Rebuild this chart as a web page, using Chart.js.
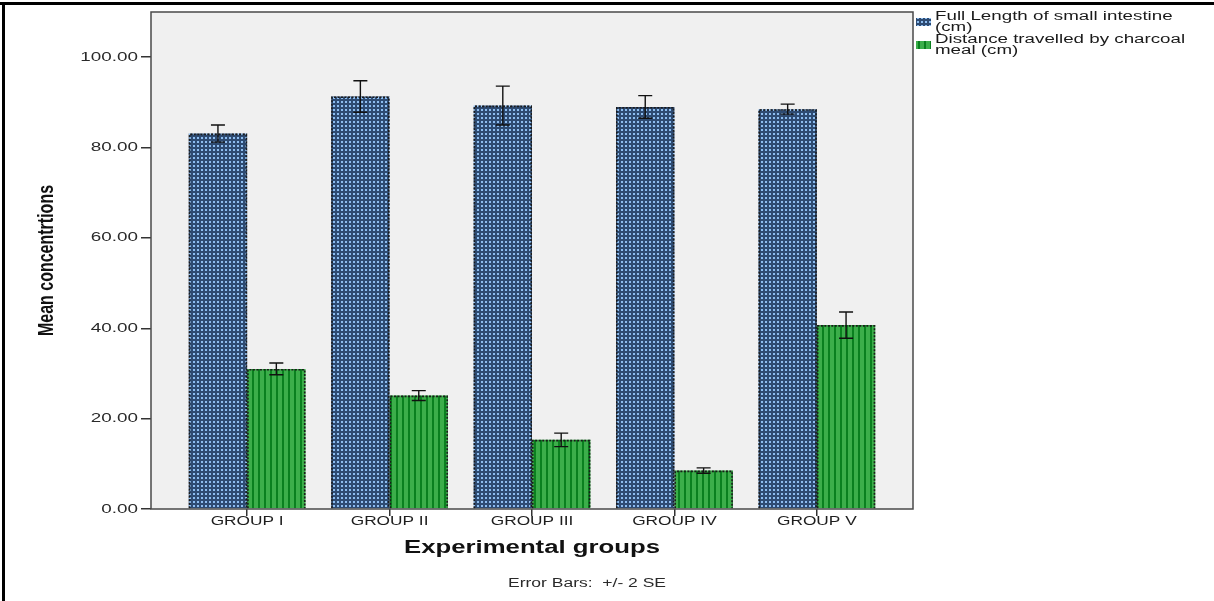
<!DOCTYPE html>
<html>
<head>
<meta charset="utf-8">
<script src="https://cdn.jsdelivr.net/npm/chart.js@4.4.1/dist/chart.umd.min.js"></script>
<style>
  html, body { margin: 0; padding: 0; background: #fff; }
</style>
</head>
<body>
<canvas id="meanChart" width="1214" height="601"></canvas>
<script>
const groups = ['GROUP I', 'GROUP II', 'GROUP III', 'GROUP IV', 'GROUP V'];
const legendLines = [
    ['Full Length of small intestine', '(cm)'],
    ['Distance travelled by charcoal', 'meal (cm)']
];
const intestineLength = [83.1, 91.3, 89.3, 89.0, 88.5];
const intestineErr = [1.9, 3.5, 4.3, 2.5, 1.1];
const charcoalDistance = [31.0, 25.1, 15.3, 8.5, 40.7];
const charcoalErr = [1.3, 1.1, 1.5, 0.6, 2.9];
const yTicks = [0, 20, 40, 60, 80, 100];

const FONT = '"Liberation Sans", Arial, sans-serif';
const STRETCH = 1.43; // the original picture is squeezed wide

const ctx = document.getElementById('meanChart').getContext('2d');

// checker pattern for the blue bars
function checkPattern() {
    const c = document.createElement('canvas');
    c.width = 4; c.height = 4;
    const g = c.getContext('2d');
    g.fillStyle = '#2e4b72';
    g.fillRect(0, 0, 4, 4);
    g.fillStyle = '#8dbdf0';
    g.fillRect(1, 1, 2, 2);
    return ctx.createPattern(c, 'repeat');
}
// vertical stripes for the green bars
function stripePattern() {
    const c = document.createElement('canvas');
    c.width = 6; c.height = 2;
    const g = c.getContext('2d');
    g.fillStyle = '#3cae4a';
    g.fillRect(0, 0, 6, 2);
    g.fillStyle = '#0a801f';
    g.fillRect(0, 0, 2, 2);
    return ctx.createPattern(c, 'repeat');
}
const bluePattern = checkPattern();
const greenPattern = stripePattern();
const errors = [intestineErr, charcoalErr];
const swatches = [bluePattern, greenPattern];

function wideText(text, x, y, font, color, align, sx) {
    ctx.save();
    ctx.font = font;
    ctx.fillStyle = color;
    ctx.textAlign = align;
    ctx.textBaseline = 'middle';
    ctx.translate(x, y);
    ctx.scale(sx, 1);
    ctx.fillText(text, 0, 0);
    ctx.restore();
}

const decor = {
    id: 'decor',
    beforeDraw(chart) {
        const a = chart.chartArea;
        ctx.save();
        ctx.fillStyle = '#f0f0f0';
        ctx.fillRect(a.left, a.top, a.right - a.left, a.bottom - a.top);
        // outer figure frame, only top and left are visible
        ctx.fillStyle = '#000';
        ctx.fillRect(0, 2, chart.width, 3);
        ctx.fillRect(2, 2, 3, chart.height);
        ctx.restore();
    },
    afterDatasetsDraw(chart) {
        const yScale = chart.scales.y;
        ctx.save();
        chart.data.datasets.forEach((ds, di) => {
            const meta = chart.getDatasetMeta(di);
            meta.data.forEach((bar, i) => {
                const p = bar.getProps(['x', 'y', 'base', 'width'], true);
                const l = p.x - p.width / 2, r = p.x + p.width / 2;
                ctx.setLineDash([2, 1.5]);
                ctx.lineWidth = 1.6;
                ctx.strokeStyle = '#1a1a1a';
                ctx.beginPath();
                ctx.moveTo(l + 0.8, p.base);
                ctx.lineTo(l + 0.8, p.y + 0.8);
                ctx.lineTo(r - 0.8, p.y + 0.8);
                ctx.lineTo(r - 0.8, p.base);
                ctx.stroke();

                // error bars +/- 2 SE
                const v = ds.data[i].y, e = errors[di][i];
                const top = yScale.getPixelForValue(v + e);
                const bot = yScale.getPixelForValue(v - e);
                ctx.setLineDash([]);
                ctx.lineWidth = 1.4;
                ctx.strokeStyle = '#111';
                ctx.beginPath();
                ctx.moveTo(p.x, top); ctx.lineTo(p.x, bot);
                ctx.moveTo(p.x - 7, top); ctx.lineTo(p.x + 7, top);
                ctx.moveTo(p.x - 7, bot); ctx.lineTo(p.x + 7, bot);
                ctx.stroke();
            });
        });
        ctx.restore();
    },
    afterDraw(chart) {
        const a = chart.chartArea;
        const xScale = chart.scales.x, yScale = chart.scales.y;
        ctx.save();
        ctx.strokeStyle = '#4a4a4a';
        ctx.lineWidth = 1.5;
        ctx.strokeRect(a.left, a.top, a.right - a.left, a.bottom - a.top);
        ctx.restore();

        yScale.ticks.forEach(t => {
            wideText(t.value.toFixed(2), 138, yScale.getPixelForValue(t.value),
                '13px ' + FONT, '#2a2a2a', 'right', 1.45);
        });
        xScale.ticks.forEach(t => {
            wideText(groups[t.value], xScale.getPixelForValue(t.value), 522,
                '12px ' + FONT, '#1e1e1e', 'center', 1.44);
        });
        wideText('Experimental groups', (a.left + a.right) / 2, 548,
            'bold 18px ' + FONT, '#111', 'center', STRETCH);
        wideText('Error Bars:  +/- 2 SE', 508, 584,
            '12.5px ' + FONT, '#2a2a2a', 'left', 1.4);

        // rotated y title
        ctx.save();
        ctx.translate(47, (a.top + a.bottom) / 2);
        ctx.rotate(-Math.PI / 2);
        ctx.scale(1, STRETCH);
        ctx.font = 'bold 16px ' + FONT;
        ctx.fillStyle = '#111';
        ctx.textAlign = 'center';
        ctx.textBaseline = 'middle';
        ctx.fillText('Mean concentrtions', 0, 0);
        ctx.restore();

        // legend
        legendLines.forEach((lines, k) => {
            const y0 = 17 + k * 23;
            ctx.fillStyle = swatches[k];
            ctx.fillRect(916, y0 + 1, 15, 8);
            lines.forEach((txt, j) => {
                wideText(txt, 935, y0 + j * 11, '12.5px ' + FONT, '#1a1a1a', 'left', 1.5);
            });
        });
    }
};

new Chart(ctx, {
    type: 'bar',
    data: {
        datasets: [
            {
                label: legendLines[0].join(' '),
                data: intestineLength.map((v, i) => ({ x: i, y: v })),
                backgroundColor: bluePattern,
                borderWidth: 0,
                categoryPercentage: 0.82,
                barPercentage: 1
            },
            {
                label: legendLines[1].join(' '),
                data: charcoalDistance.map((v, i) => ({ x: i, y: v })),
                backgroundColor: greenPattern,
                borderWidth: 0,
                categoryPercentage: 0.82,
                barPercentage: 1
            }
        ]
    },
    options: {
        responsive: false,
        animation: false,
        layout: { padding: { left: 0, top: 12, right: 301, bottom: 0 } },
        scales: {
            x: {
                type: 'linear',
                min: -0.675,
                max: 4.675,
                offset: false,
                afterBuildTicks: s => { s.ticks = groups.map((g, i) => ({ value: i })); },
                afterFit: s => { s.height = 92; },
                ticks: { display: false },
                grid: { offset: false, drawOnChartArea: false, drawTicks: true, tickLength: 7, color: '#333', lineWidth: 1.5 },
                border: { display: false }
            },
            y: {
                min: 0,
                max: 110,
                afterBuildTicks: s => { s.ticks = yTicks.map(v => ({ value: v })); },
                afterFit: s => { s.width = 151; },
                ticks: { display: false },
                grid: { drawOnChartArea: false, drawTicks: true, tickLength: 10, color: '#333', lineWidth: 1.5 },
                border: { display: false }
            }
        },
        plugins: {
            legend: { display: false },
            tooltip: { enabled: false }
        }
    },
    plugins: [decor]
});
</script>
</body>
</html>
